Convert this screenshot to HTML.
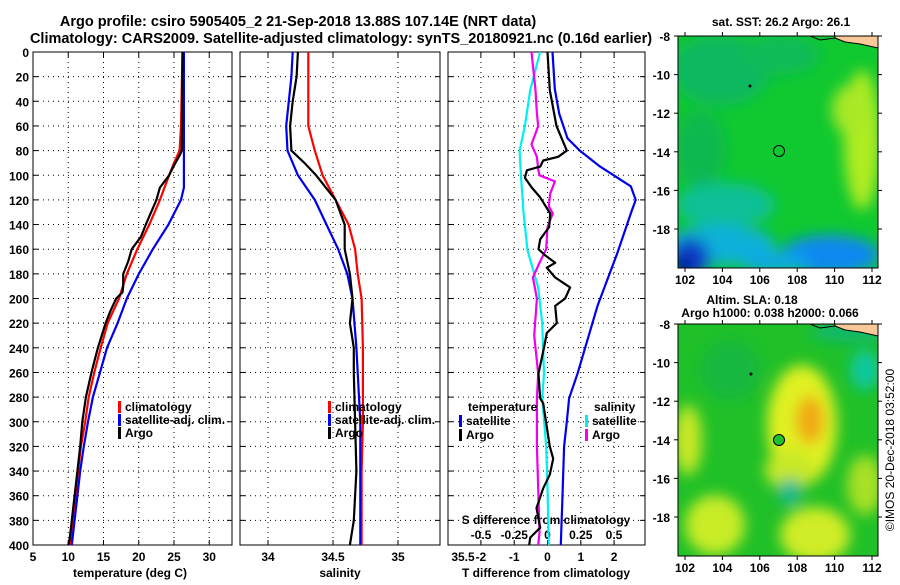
<!DOCTYPE html>
<html><head><meta charset="utf-8">
<style>
html,body{margin:0;padding:0;background:#fff;}
svg text{font-family:"Liberation Sans",Arial,sans-serif;font-weight:bold;fill:#000;}
</style></head>
<body>
<svg id="chart" width="900" height="580" xmlns="http://www.w3.org/2000/svg">
<defs>
<filter id="blur8" x="-50%" y="-50%" width="200%" height="200%"><feGaussianBlur stdDeviation="7"/></filter>
<clipPath id="clipMap1"><rect x="678" y="36" width="200" height="232"/></clipPath>
<clipPath id="clipMap2"><rect x="678" y="324" width="200" height="232"/></clipPath>
</defs>
<text x="298" y="26" text-anchor="middle" font-size="14.5">Argo profile: csiro 5905405_2 21-Sep-2018 13.88S 107.14E (NRT data)</text>
<text x="341" y="43" text-anchor="middle" font-size="14.5">Climatology: CARS2009. Satellite-adjusted climatology: synTS_20180921.nc (0.16d earlier)</text>

<g id="maps">
 <g clip-path="url(#clipMap1)">
  <rect x="678" y="36" width="200" height="232" fill="#10c830"/>
  <g filter="url(#blur8)">
   <ellipse cx="720" cy="70" rx="50" ry="35" fill="#10b860"/>
   <ellipse cx="780" cy="55" rx="40" ry="20" fill="#10bc58"/>
   <ellipse cx="700" cy="150" rx="25" ry="40" fill="#10b850"/>
   <ellipse cx="862" cy="140" rx="18" ry="70" fill="#b0ec20"/>
   <ellipse cx="850" cy="110" rx="18" ry="25" fill="#a8e828"/>
   <ellipse cx="725" cy="205" rx="50" ry="22" fill="#10c098"/>
   <ellipse cx="720" cy="245" rx="55" ry="20" fill="#10b0d8"/>
   <ellipse cx="830" cy="255" rx="50" ry="20" fill="#1088f0"/>
   <ellipse cx="775" cy="262" rx="35" ry="10" fill="#10a8e8"/>
   <ellipse cx="690" cy="258" rx="20" ry="20" fill="#1040c8"/>
   <ellipse cx="683" cy="266" rx="10" ry="9" fill="#000a90"/>
  </g>
  <path d="M835 36 L878 36 L878 48 L860 44 L845 42 L835 38Z" fill="#f8c898" stroke="#000" stroke-width="1"/>
  <path d="M810 36 L820 40 L835 38" fill="none" stroke="#000"/>
  <circle cx="779" cy="151" r="5.5" fill="none" stroke="#000"/>
  <circle cx="750" cy="86" r="1.5" fill="#000"/>
 </g>
 <rect x="678" y="36" width="200" height="232" fill="none" stroke="#000"/>
 <g clip-path="url(#clipMap2)">
  <rect x="678" y="324" width="200" height="232" fill="#20c028"/>
  <g filter="url(#blur8)">
   <ellipse cx="802" cy="425" rx="35" ry="60" fill="#e0f020"/>
   <ellipse cx="790" cy="470" rx="25" ry="20" fill="#c8e828"/>
   <ellipse cx="810" cy="420" rx="14" ry="24" fill="#f0a818"/>
   <ellipse cx="688" cy="440" rx="14" ry="35" fill="#c8e828"/>
   <ellipse cx="715" cy="525" rx="30" ry="30" fill="#c8ec28"/>
   <ellipse cx="815" cy="535" rx="35" ry="28" fill="#d0ec28"/>
   <ellipse cx="865" cy="485" rx="18" ry="30" fill="#a8e028"/>
   <ellipse cx="865" cy="370" rx="15" ry="20" fill="#10c8a0"/>
   <ellipse cx="790" cy="492" rx="11" ry="14" fill="#10b898"/>
   <ellipse cx="850" cy="332" rx="40" ry="10" fill="#10b870"/>
   <ellipse cx="730" cy="370" rx="30" ry="30" fill="#18b840"/>
  </g>
  <path d="M835 324 L878 324 L878 336 L860 332 L845 330 L835 326Z" fill="#f8c898" stroke="#000" stroke-width="1"/>
  <path d="M810 324 L820 328 L835 326" fill="none" stroke="#000"/>
  <circle cx="779" cy="440" r="5.5" fill="#20c030" stroke="#000"/>
  <circle cx="751" cy="374" r="1.5" fill="#000"/>
 </g>
 <rect x="678" y="324" width="200" height="232" fill="none" stroke="#000"/>
 <text x="781" y="26" text-anchor="middle" font-size="12">sat. SST: 26.2 Argo: 26.1</text>
 <text x="752" y="304" text-anchor="middle" font-size="12">Altim. SLA: 0.18</text>
 <text x="770" y="317" text-anchor="middle" font-size="12">Argo h1000: 0.038 h2000: 0.066</text>
 <text transform="translate(894,450) rotate(-90)" text-anchor="middle" font-size="12" style="font-weight:normal">©IMOS 20-Dec-2018 03:52:00</text>
</g>

<g id="panels"></g>
</svg>
<script>
// ---------- data ----------
const depthTicks = [0,20,40,60,80,100,120,140,160,180,200,220,240,260,280,300,320,340,360,380,400];
const tempTicks = [5,10,15,20,25,30];
const salTicks = [34,34.5,35,35.5];
const salTickLabels = ["34","34.5","35","35.5"];
const tdTicks = [-2,-1,0,1,2];
const tdTickLabels = ["-2","-1","0","1","2"];
const sdTicks = [-0.5,-0.25,0,0.25,0.5];
const sdTickLabels = ["-0.5","-0.25","0","0.25","0.5"];
const lonTicks = [102,104,106,108,110,112];
const latTicks = [-8,-10,-12,-14,-16,-18];

const tClimDepth = [0,60,80,90,100,120,140,160,180,200,220,240,260,280,300,320,340,360,380,400];
const tClim = [26.2,26.0,25.8,25.0,24.3,23.0,21.5,19.8,18.3,17.2,15.6,14.6,13.7,12.9,12.4,11.8,11.4,11.0,10.6,10.3];
const tSatDepth = [0,110,120,140,160,180,200,220,240,260,280,300,320,340,360,380,400];
const tSat = [26.4,26.4,26.0,24.2,22.0,20.0,18.3,17.0,15.5,14.5,13.5,12.8,12.2,11.7,11.3,10.9,10.5];
const tArgoDepth = [0,80,84,90,100,110,120,140,150,160,170,180,190,195,200,210,220,240,260,280,300,320,340,360,380,395,400];
const tArgo = [26.2,26.1,25.8,25.2,24.3,23.0,22.5,21.0,20.3,19.0,18.5,17.8,17.8,17.7,16.8,16.0,15.3,14.2,13.3,12.5,12.0,11.7,11.3,10.9,10.5,10.2,10.0];

const sClimDepth = [0,60,80,100,120,140,160,180,200,240,300,340,400];
const sClim = [34.31,34.31,34.36,34.42,34.52,34.62,34.67,34.69,34.72,34.73,34.73,34.72,34.72];
const sSatDepth = [0,20,40,60,80,100,120,140,160,180,200,240,300,400];
const sSat = [34.19,34.18,34.16,34.14,34.15,34.23,34.36,34.45,34.54,34.61,34.65,34.68,34.71,34.71];
const sArgoDepth = [0,20,40,60,80,90,100,120,140,160,180,200,220,240,260,300,340,380,400];
const sArgo = [34.23,34.22,34.19,34.17,34.18,34.28,34.37,34.52,34.59,34.59,34.63,34.65,34.63,34.66,34.66,34.67,34.68,34.66,34.63];

const dtSatDepth = [0,30,50,70,80,93,109,120,131,163,206,261,281,300,320,360,400];
const dtSat = [0.15,0.22,0.35,0.6,0.97,1.58,2.5,2.65,2.5,2.1,1.5,0.9,0.65,0.58,0.5,0.45,0.4];
const dtArgoDepth = [0,31,60,80,85,88,93,96,102,110,118,131,142,152,160,165,171,175,183,191,200,206,220,228,239,261,281,285,320,330,343,354,370,386,394,400];
const dtArgo = [0,0.07,0.27,0.58,0.32,-0.13,-0.22,-0.62,-0.68,-0.47,-0.22,0.08,0.05,-0.22,-0.27,-0.07,0.23,-0.02,0.23,0.68,0.53,0.23,0.28,-0.02,-0.1,-0.27,-0.22,-0.13,0.07,0.17,0.07,-0.13,-0.33,-0.22,-0.52,-0.55];
const dsSatDepth = [0,31,60,80,100,131,161,191,220,261,281,320,354,400];
const dsSat = [-0.056,-0.13,-0.17,-0.21,-0.2,-0.18,-0.15,-0.07,-0.04,-0.026,-0.04,-0.01,0.0,0.01];
const dsArgoDepth = [0,31,50,60,75,85,95,100,105,115,125,131,142,160,171,183,200,230,261,281,320,354,390,400];
const dsArgo = [-0.12,-0.09,-0.08,-0.07,-0.12,-0.08,-0.07,-0.06,0.056,0.02,0.01,0.04,0,-0.01,-0.06,-0.11,-0.08,-0.1,-0.07,-0.08,-0.08,-0.07,-0.06,-0.07];

// ---------- axes ----------
const Y0=52, Y1=545;
const yD = d => Y0 + d*(Y1-Y0)/400;
const xT = t => 33 + (t-5)*7.05;
const xS = s => 268 + (s-34)*130;
const xDT = v => 547.5 + v*33.3;
const xDS = v => 547.5 + v*133;
const xLon = l => 685 + (l-102)*18.7;
const yLat1 = l => 36 + (-8-l)*19.3;
const yLat2 = l => 324 + (-8-l)*19.3;

const NS="http://www.w3.org/2000/svg";
const g=document.getElementById('panels');
function mk(tag, attrs, parent){const e=document.createElementNS(NS,tag);for(const k in attrs)e.setAttribute(k,attrs[k]);(parent||g).appendChild(e);return e;}
function txt(x,y,s,size,anchor,parent){const e=mk('text',{x:x,y:y,'font-size':size,'text-anchor':anchor||'middle'},parent);e.textContent=s;return e;}

const panels=[[33,232,'temperature-panel'],[240,440,'salinity-panel'],[448,645,'difference-panel']];
panels.forEach(p=>{
  const r=mk('rect',{x:p[0],y:Y0,width:p[1]-p[0],height:Y1-Y0,fill:'#fff',stroke:'#000'});
  
  
  depthTicks.slice(1,-1).forEach(d=>{
    mk('line',{x1:p[0],x2:p[1],y1:yD(d),y2:yD(d),stroke:'#000','stroke-dasharray':'1,4'});
    mk('line',{x1:p[0],x2:p[0]+5,y1:yD(d),y2:yD(d),stroke:'#000'});
    mk('line',{x1:p[1]-5,x2:p[1],y1:yD(d),y2:yD(d),stroke:'#000'});
  });
});
function vgrid(xs,p){xs.forEach(x=>{if(x>p[0]+1&&x<p[1]-1){mk('line',{x1:x,x2:x,y1:Y0,y2:Y1,stroke:'#000','stroke-dasharray':'1,4'});mk('line',{x1:x,x2:x,y1:Y1-5,y2:Y1,stroke:'#000'});mk('line',{x1:x,x2:x,y1:Y0,y2:Y0+5,stroke:'#000'});}});}
vgrid(tempTicks.map(xT),panels[0]);
vgrid(salTicks.map(xS),panels[1]);
vgrid(tdTicks.map(xDT),panels[2]);

depthTicks.forEach(d=>{const e=txt(29,yD(d)+5,String(d),12,'end');});
tempTicks.forEach(t=>{const e=txt(xT(t),561,String(t),12);});
salTicks.forEach((s,i)=>{const e=txt(xS(s),561,salTickLabels[i],12);});
tdTicks.forEach((s,i)=>{const e=txt(xDT(s),561,tdTickLabels[i],12);});
sdTicks.forEach((s,i)=>{const e=txt(xDS(s),539,sdTickLabels[i],12);});
let e;
e=txt(130,577,'temperature (deg C)',12);
e=txt(340,577,'salinity',12);
e=txt(546,577,'T difference from climatology',12);
e=txt(546,524,'S difference from climatology',12);

function series(xs,ds,fx,color,name){
  const pts=xs.map((v,i)=>fx(v).toFixed(1)+','+yD(ds[i]).toFixed(1)).join(' ');
  const l=mk('polyline',{points:pts,fill:'none',stroke:color,'stroke-width':2.2,'stroke-linejoin':'round'});
  
  
}
series(tClim,tClimDepth,xT,'#f00','temperature-climatology-line');
series(tSat,tSatDepth,xT,'#0000f0','temperature-satellite-line');
series(tArgo,tArgoDepth,xT,'#000','temperature-argo-line');
series(sClim,sClimDepth,xS,'#f00','salinity-climatology-line');
series(sSat,sSatDepth,xS,'#0000f0','salinity-satellite-line');
series(sArgo,sArgoDepth,xS,'#000','salinity-argo-line');
series(dtSat,dtSatDepth,xDT,'#0000f0','t-diff-satellite-line');
series(dsSat,dsSatDepth,xDS,'#00f0f0','s-diff-satellite-line');
series(dsArgo,dsArgoDepth,xDS,'#f000f0','s-diff-argo-line');
series(dtArgo,dtArgoDepth,xDT,'#000','t-diff-argo-line');

function legend(x,y,color,label,name){
  mk('rect',{x:x,y:y-10,width:3,height:12,fill:color});
  const t=txt(x+7,y,label,12,'start');
  
  
}
legend(118,411,'#f00','climatology','legend-temp-climatology');
legend(118,424,'#0000f0','satellite-adj. clim.','legend-temp-satellite');
legend(118,437,'#000','Argo','legend-temp-argo');
legend(328,411,'#f00','climatology','legend-sal-climatology');
legend(328,424,'#0000f0','satellite-adj. clim.','legend-sal-satellite');
legend(328,437,'#000','Argo','legend-sal-argo');
e=txt(468,411,'temperature',12,'start');
legend(459,425,'#0000f0','satellite','legend-diff-temp-satellite');
legend(459,439,'#000','Argo','legend-diff-temp-argo');
e=txt(594,411,'salinity',12,'start');
legend(585,425,'#00f0f0','satellite','legend-diff-sal-satellite');
legend(585,439,'#f000f0','Argo','legend-diff-sal-argo');

// map axes
[[36,268,yLat1],[324,556,yLat2]].forEach((m,mi)=>{
  lonTicks.forEach(l=>{
    mk('line',{x1:xLon(l),x2:xLon(l),y1:m[0]-4,y2:m[0],stroke:'#000'});
    mk('line',{x1:xLon(l),x2:xLon(l),y1:m[1],y2:m[1]+4,stroke:'#000'});
    const t=txt(xLon(l),m[1]+16,String(l),12);
    
    
  });
  latTicks.forEach(l=>{
    const y=m[2](l);
    mk('line',{x1:674,x2:678,y1:y,y2:y,stroke:'#000'});
    mk('line',{x1:878,x2:882,y1:y,y2:y,stroke:'#000'});
    const t=txt(670,y+5,String(l),12,'end');
    
    
  });
});
</script>
</body></html>
